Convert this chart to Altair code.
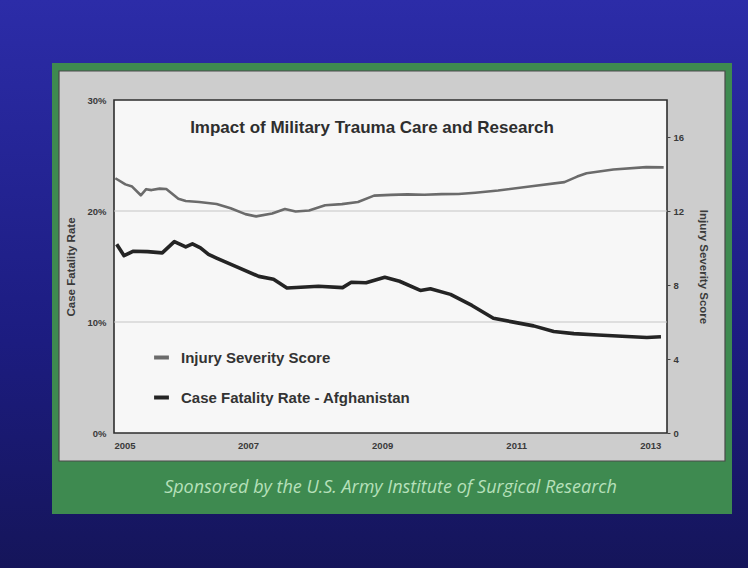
import altair as alt
import pandas as pd

# ---------------- data ----------------
iss_year = [2005.02, 2005.17, 2005.27, 2005.40, 2005.48, 2005.56, 2005.68, 2005.78,
            2005.96, 2006.07, 2006.27, 2006.53, 2006.74, 2006.96, 2007.12, 2007.36,
            2007.55, 2007.71, 2007.91, 2008.15, 2008.40, 2008.64, 2008.88, 2009.13,
            2009.38, 2009.63, 2009.89, 2010.14, 2010.39, 2010.73, 2011.23, 2011.72,
            2011.91, 2012.05, 2012.45, 2012.94, 2013.20]
iss_value = [13.77, 13.44, 13.32, 12.85, 13.18, 13.13, 13.21, 13.19,
             12.66, 12.54, 12.49, 12.38, 12.15, 11.83, 11.71, 11.86,
             12.11, 11.97, 12.03, 12.31, 12.37, 12.49, 12.83, 12.87,
             12.90, 12.88, 12.91, 12.92, 12.99, 13.11, 13.34, 13.56,
             13.86, 14.04, 14.24, 14.37, 14.36]

cfr_year = [2005.04, 2005.15, 2005.29, 2005.50, 2005.72, 2005.90, 2006.07, 2006.17,
            2006.29, 2006.41, 2006.53, 2006.84, 2007.16, 2007.38, 2007.58, 2007.72,
            2008.05, 2008.41, 2008.54, 2008.76, 2009.04, 2009.26, 2009.57, 2009.72,
            2010.02, 2010.34, 2010.66, 2010.96, 2011.26, 2011.56, 2011.86, 2012.22,
            2012.58, 2012.95, 2013.16]
cfr_value = [17.00, 15.97, 16.38, 16.34, 16.23, 17.24, 16.76, 17.04,
             16.67, 16.09, 15.76, 14.94, 14.11, 13.85, 13.06, 13.11,
             13.22, 13.10, 13.58, 13.53, 14.03, 13.67, 12.84, 12.99,
             12.49, 11.49, 10.34, 9.99, 9.65, 9.14, 8.95, 8.83,
             8.72, 8.61, 8.67]

series_names = ["Injury Severity Score", "Case Fatality Rate - Afghanistan"]
series_colors = ["#6b6b6b", "#242424"]
year_ticks = [2005, 2007, 2009, 2011, 2013]
cfr_ticks = [0, 10, 20, 30]
iss_ticks = [0, 4, 8, 12, 16]
grid_levels = [10, 20]
title_text = "Impact of Military Trauma Care and Research"
sponsor_text = "Sponsored by the U.S. Army Institute of Surgical Research"

# ---------------- layout ----------------
W, H = 553, 333
PAD_L, PAD_T = 114, 100
PAD_R, PAD_B = 748 - PAD_L - W, 568 - PAD_T - H
FONT = "Liberation Sans"
LABEL_COLOR = "#3a3a3a"

iss_df = pd.DataFrame({"year": iss_year, "value": iss_value, "series": series_names[0]})
cfr_df = pd.DataFrame({"year": cfr_year, "value": cfr_value, "series": series_names[1]})
grid_df = pd.DataFrame({"level": grid_levels})
one = alt.Data(values=[{"k": 1}])

x_scale = alt.Scale(domain=[2005, 2013.25], nice=False, zero=False)
x_axis = alt.Axis(values=year_ticks, format="d", title=None, grid=False, domain=False,
                  ticks=False, labelFontSize=9.5, labelFontWeight="bold", labelFont=FONT,
                  labelColor=LABEL_COLOR, labelPadding=7, zindex=1)

color = alt.Color(
    "series:N",
    scale=alt.Scale(domain=series_names, range=series_colors),
    legend=alt.Legend(
        title=None, orient="none", legendX=38, legendY=248, padding=0,
        symbolType="stroke", symbolStrokeWidth=4, symbolSize=220,
        labelFontSize=15, labelFont=FONT, labelFontWeight="bold",
        labelColor="#333333", labelOffset=10, labelLimit=500,
        rowPadding=22, zindex=1,
    ),
)

bg_grad = alt.LinearGradient(
    gradient="linear",
    stops=[alt.GradientStop(color="#2c2ca8", offset=0),
           alt.GradientStop(color="#1c1c80", offset=0.6),
           alt.GradientStop(color="#15155a", offset=1)],
    x1=0, x2=0, y1=0, y2=1,
)

background = alt.Chart(one).mark_rect(fill=bg_grad).encode(
    x=alt.value(-PAD_L), x2=alt.value(W + PAD_R),
    y=alt.value(-PAD_T), y2=alt.value(H + PAD_B))

poster = alt.Chart(one).mark_rect(fill="#3e8a50").encode(
    x=alt.value(-62), x2=alt.value(W + 65),
    y=alt.value(-37), y2=alt.value(H + 81))

board = alt.Chart(one).mark_rect(fill="#cdcdcd", stroke="#4a4a4a", strokeWidth=1.2).encode(
    x=alt.value(-55), x2=alt.value(W + 58),
    y=alt.value(-29), y2=alt.value(H + 28))

plot_area = alt.Chart(one).mark_rect(fill="#f7f7f7", stroke="#2e2e2e", strokeWidth=1.6).encode(
    x=alt.value(0), x2=alt.value(W), y=alt.value(0), y2=alt.value(H))

grid = alt.Chart(grid_df).mark_rule(color="#c6c6c6", strokeWidth=1.2).encode(
    y=alt.Y("level:Q", scale=alt.Scale(domain=[0, 30]), axis=None))

title = alt.Chart(one).mark_text(
    text=title_text, font=FONT, fontSize=17, fontWeight="bold", color="#2e2e2e"
).encode(x=alt.value(258), y=alt.value(28))

sponsor = alt.Chart(one).mark_text(
    text=sponsor_text, font="Open Sans", fontSize=18, fontStyle="italic", color="#b6e0ba"
).encode(x=alt.value(W / 2), y=alt.value(H + 55))

iss_line = alt.Chart(iss_df).mark_line(strokeWidth=2.6, strokeJoin="round").encode(
    x=alt.X("year:Q", scale=x_scale, axis=x_axis),
    y=alt.Y("value:Q", scale=alt.Scale(domain=[0, 18], nice=False),
            axis=alt.Axis(orient="right", values=iss_ticks, title="Injury Severity Score",
                          grid=False, domain=False, ticks=True, tickSize=3, tickColor="#444",
                          labelFontSize=9.5, labelFontWeight="bold", labelFont=FONT,
                          labelColor=LABEL_COLOR, labelPadding=3,
                          titleFont=FONT, titleFontSize=11.5, titleFontWeight="bold",
                          titleColor=LABEL_COLOR, titlePadding=14, zindex=1)),
    color=color,
)

cfr_line = alt.Chart(cfr_df).mark_line(strokeWidth=3.6, strokeJoin="round").encode(
    x=alt.X("year:Q", scale=x_scale, axis=x_axis),
    y=alt.Y("value:Q", scale=alt.Scale(domain=[0, 30], nice=False),
            axis=alt.Axis(orient="left", values=cfr_ticks, labelExpr="datum.value + '%'",
                          title="Case Fatality Rate", grid=False, domain=False, ticks=False,
                          labelFontSize=9.5, labelFontWeight="bold", labelFont=FONT,
                          labelColor=LABEL_COLOR, labelPadding=8,
                          titleFont=FONT, titleFontSize=11.5, titleFontWeight="bold",
                          titleColor=LABEL_COLOR, titlePadding=10, zindex=1)),
    color=color,
)

chart = alt.layer(
    background, poster, board, plot_area, grid, title, sponsor, iss_line, cfr_line
).resolve_scale(
    y="independent"
).properties(
    width=W, height=H,
    autosize=alt.AutoSizeParams(type="none"),
    padding={"left": PAD_L, "top": PAD_T, "right": PAD_R, "bottom": PAD_B},
    background="#1c1c80",
).configure_view(stroke=None)

chart.save("out.html", embed_options={"renderer": "svg", "actions": False})
